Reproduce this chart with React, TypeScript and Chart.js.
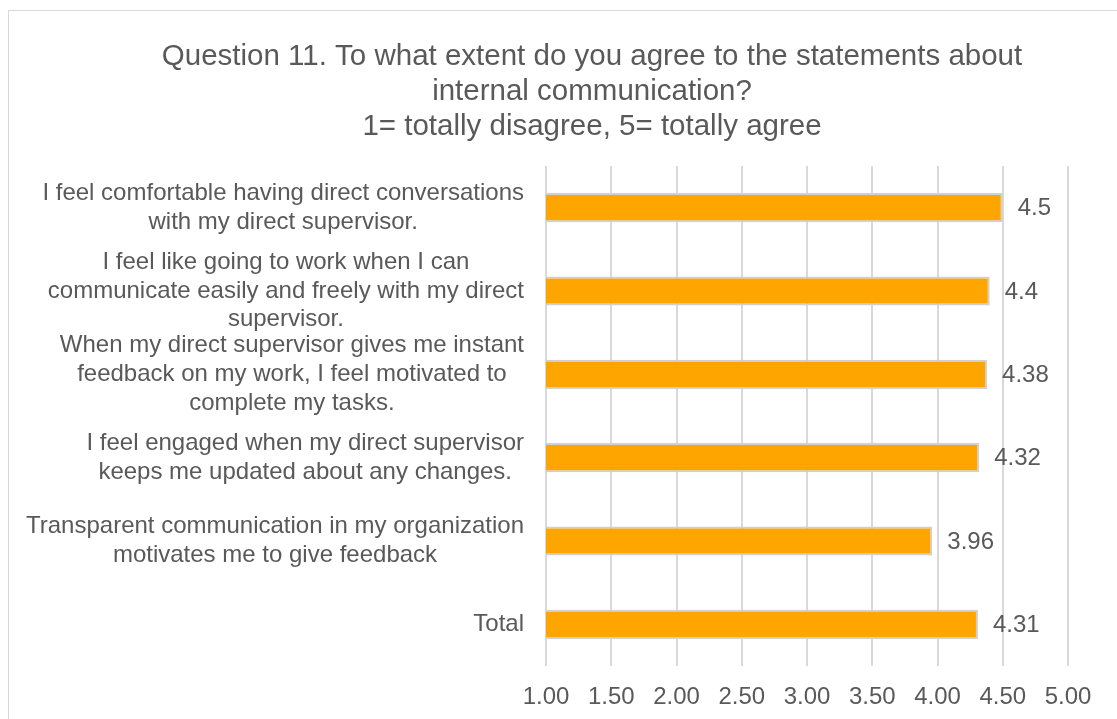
import React, { useEffect, useRef } from "react";
import { Chart, registerables } from "chart.js";

Chart.register(...registerables);

// ---- data ----
const titleLines = [
  "Question 11. To what extent do you agree to the statements about",
  "internal communication?",
  "1= totally disagree, 5= totally agree",
];

const categories: string[][] = [
  ["I feel comfortable having direct conversations", "with my direct supervisor."],
  ["I feel like going to work when I can", "communicate easily and freely with my direct", "supervisor."],
  ["When my direct supervisor gives me instant", "feedback on my work, I feel motivated to", "complete my tasks."],
  ["I feel engaged when my direct supervisor", "keeps me updated about any changes."],
  ["Transparent communication in my organization", "motivates me to give feedback"],
  ["Total"],
];

const values = [4.5, 4.4, 4.38, 4.32, 3.96, 4.31];
const valueLabels = ["4.5", "4.4", "4.38", "4.32", "3.96", "4.31"];

const axisMin = 1;
const axisMax = 5;
const axisStep = 0.5;

// ---- style ----
const FONT = '"Liberation Sans", Arial, sans-serif';
const TEXT = "#595959";
const GRID = "#d9d9d9";

const titlePlugin = {
  id: "customTitle",
  afterDraw(chart: any) {
    const ctx = chart.ctx;
    ctx.save();
    ctx.font = `29.5px ${FONT}`;
    ctx.fillStyle = TEXT;
    ctx.textAlign = "center";
    ctx.textBaseline = "middle";
    titleLines.forEach((line, i) => {
      ctx.fillText(line, 592, 57 + i * 34.8);
    });
    ctx.restore();
  },
};

const categoryLabelPlugin = {
  id: "categoryLabels",
  afterDraw(chart: any) {
    const ctx = chart.ctx;
    const yScale = chart.scales.y;
    const right = chart.chartArea.left - 22;
    const lh = 28.8;
    ctx.save();
    ctx.font = `24px ${FONT}`;
    ctx.fillStyle = TEXT;
    ctx.textAlign = "center";
    ctx.textBaseline = "middle";
    categories.forEach((lines, i) => {
      const y = yScale.getPixelForValue(i);
      const w = Math.max(...lines.map((l) => ctx.measureText(l).width));
      const cx = right - w / 2;
      lines.forEach((l, j) => {
        ctx.fillText(l, cx, y + (j - (lines.length - 1) / 2) * lh);
      });
    });
    ctx.restore();
  },
};

const valueLabelPlugin = {
  id: "valueLabels",
  afterDatasetsDraw(chart: any) {
    const ctx = chart.ctx;
    const meta = chart.getDatasetMeta(0);
    ctx.save();
    ctx.font = `24px ${FONT}`;
    ctx.fillStyle = TEXT;
    ctx.textAlign = "left";
    ctx.textBaseline = "middle";
    meta.data.forEach((bar: any, i: number) => {
      ctx.fillText(valueLabels[i], bar.x + 15, bar.y + 1);
    });
    ctx.restore();
  },
};

export default function App() {
  const ref = useRef<HTMLCanvasElement | null>(null);

  useEffect(() => {
    if (!ref.current) return;
    const chart = new Chart(ref.current, {
      type: "bar",
      data: {
        labels: categories.map((c) => c.join(" ")),
        datasets: [
          {
            data: values,
            backgroundColor: "#FFA500",
            borderColor: "#d0d0d0",
            borderWidth: 2,
            borderSkipped: false,
            barPercentage: 0.35,
            categoryPercentage: 1,
          },
        ],
      },
      options: {
        indexAxis: "y",
        responsive: false,
        maintainAspectRatio: false,
        animation: false,
        layout: { padding: { top: 166, right: 49, bottom: 0, left: 0 } },
        plugins: {
          legend: { display: false },
          title: { display: false },
          tooltip: { enabled: false },
        },
        scales: {
          x: {
            type: "linear",
            position: "bottom",
            min: axisMin,
            max: axisMax,
            ticks: {
              stepSize: axisStep,
              color: TEXT,
              font: { family: FONT, size: 24 },
              padding: 17,
              callback: (v: any) => Number(v).toFixed(2),
            },
            grid: { color: GRID, lineWidth: 2, drawTicks: false },
            border: { display: false },
            afterFit: (scale: any) => {
              scale.height = 53;
            },
          },
          y: {
            type: "category",
            ticks: { display: false },
            grid: { display: false },
            border: { display: false },
            afterFit: (scale: any) => {
              scale.width = 546;
            },
          },
        },
      },
      plugins: [titlePlugin, categoryLabelPlugin, valueLabelPlugin],
    } as any);
    return () => chart.destroy();
  }, []);

  return (
    <div
      style={{
        position: "absolute",
        left: 0,
        top: 0,
        width: 1117,
        height: 719,
        overflow: "hidden",
        background: "#fff",
      }}
    >
      <div
        style={{
          position: "absolute",
          left: 8,
          top: 10,
          width: 1300,
          height: 900,
          border: `1px solid ${GRID}`,
          boxSizing: "border-box",
        }}
      />
      <canvas
        ref={ref}
        width={1117}
        height={719}
        style={{ position: "absolute", left: 0, top: 0, width: 1117, height: 719 }}
      />
    </div>
  );
}
